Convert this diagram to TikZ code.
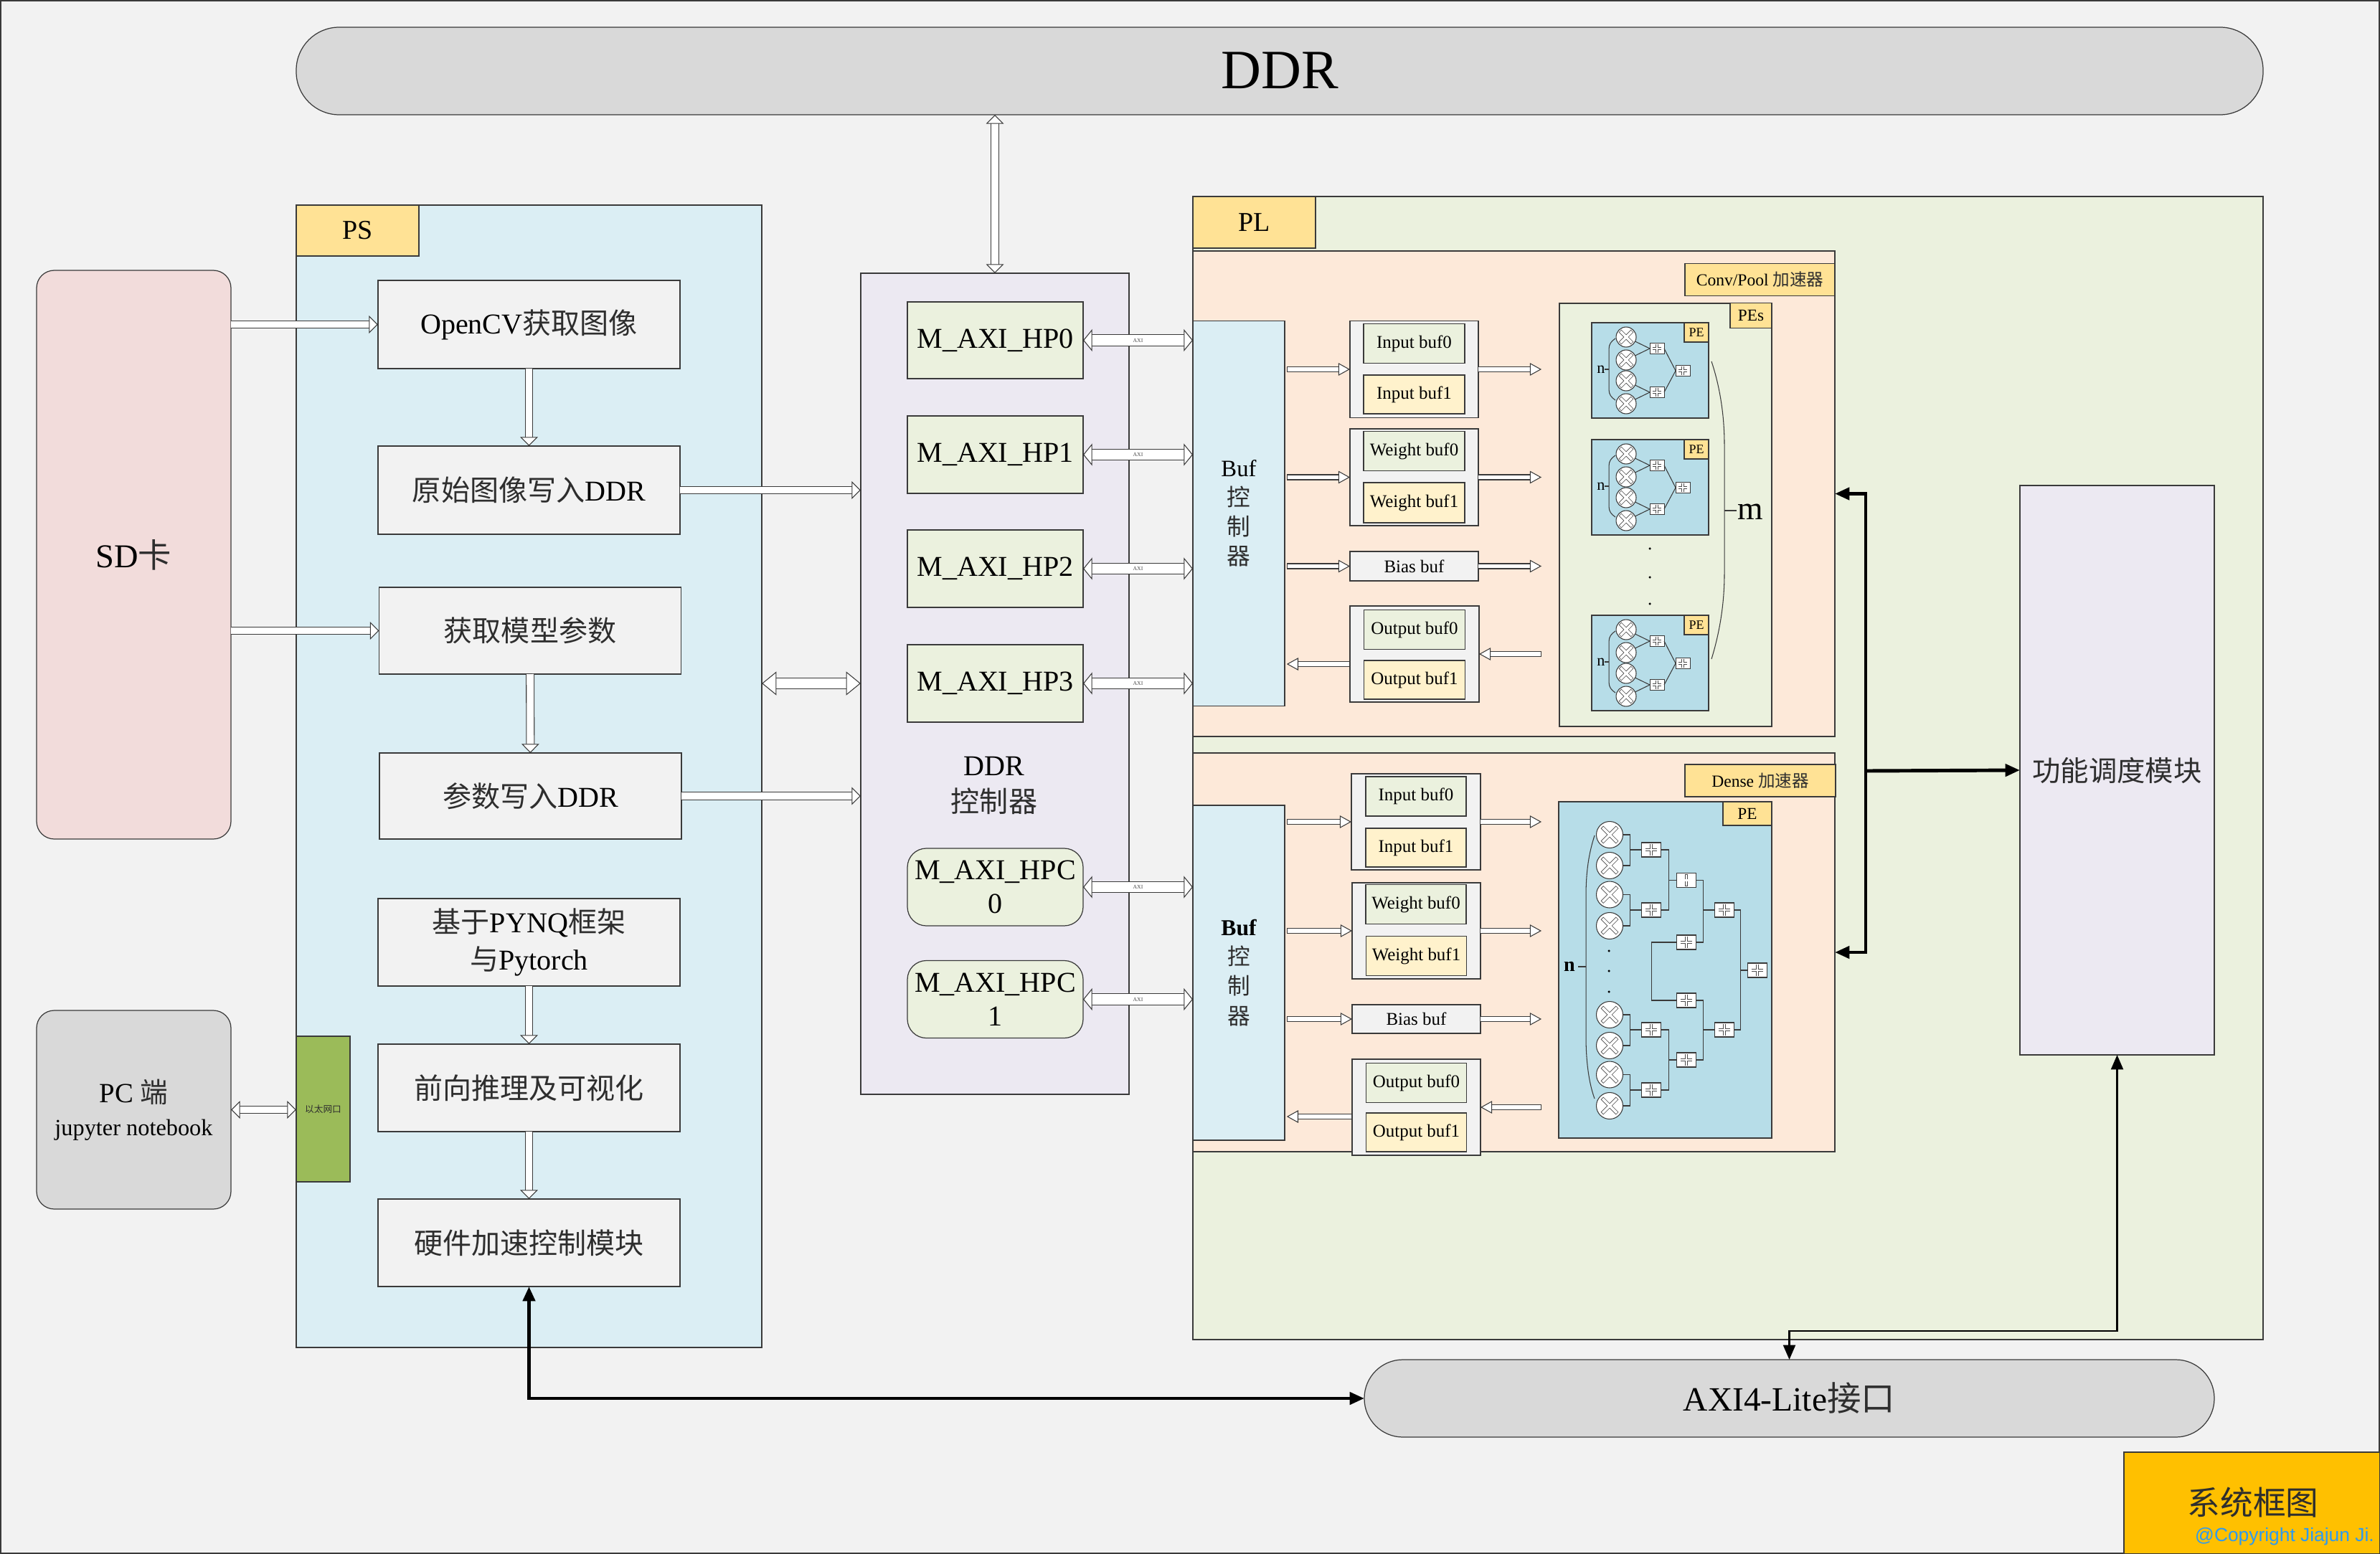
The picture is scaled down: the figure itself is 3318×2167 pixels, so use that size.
\documentclass[tikz,border=0pt]{standalone}
\usepackage{fontspec}
\setmainfont{Liberation Serif}
\newfontfamily\cjk{Noto Sans CJK SC}
\newfontfamily\arialfont{Liberation Sans}
\usetikzlibrary{arrows.meta,calc}
\newcommand{\zh}[1]{{\cjk\color{black!82}#1}}
\newcommand{\fs}[2]{\fontsize{#1}{#2}\selectfont}
\definecolor{pagegray}{HTML}{F2F2F2}
\definecolor{linegray}{HTML}{3A3A3A}
\definecolor{ddrgray}{HTML}{D9D9D9}
\definecolor{psblue}{HTML}{DBEEF4}
\definecolor{plgreen}{HTML}{EBF1DE}
\definecolor{accpeach}{HTML}{FDE9D9}
\definecolor{tagyellow}{HTML}{FFE295}
\definecolor{bufcream}{HTML}{FFF2CC}
\definecolor{ctrllilac}{HTML}{ECE9F2}
\definecolor{sdpink}{HTML}{F2DCDB}
\definecolor{ethgreen}{HTML}{9BBB59}
\definecolor{peblue}{HTML}{B7DDE8}
\definecolor{titleamber}{HTML}{FFC000}
\definecolor{copyblue}{HTML}{2E9AF0}
\tikzset{
  wh/.style 2 args={minimum width=#1*0.01cm,minimum height=#2*0.01cm},
  box/.style={draw=linegray,line width=.35pt,inner sep=0pt,outer sep=0pt,align=center},
  plain/.style={box,fill=pagegray,font=\fs{11.4}{15}},
  tagbox/.style={box,fill=tagyellow},
  hpbox/.style={box,fill=plgreen,font=\fs{11.4}{13.3}},
  groupbox/.style={box,fill=pagegray,font=\fs{7.1}{9}},
  bufa/.style={box,fill=plgreen,font=\fs{7.1}{9}},
  bufb/.style={box,fill=bufcream,font=\fs{7.1}{9}},
  mulnode/.style={circle,draw=linegray,line width=.3pt,fill=white,inner sep=0pt,outer sep=0pt,minimum size=#1*0.01cm},
  addnode/.style 2 args={rectangle,draw=linegray,line width=.3pt,fill=white,inner sep=0pt,outer sep=0pt,minimum width=#1*0.01cm,minimum height=#2*0.01cm},
  hollowout/.style={draw=black!70,line width=1.45pt},
  hollowin/.style={draw=white,line width=1pt,shorten <=.22pt,shorten >=.22pt},
  crossx/.style={path picture={
    \draw[hollowout] ([shift={(-#1,-#1)}]path picture bounding box.center) -- ([shift={(#1,#1)}]path picture bounding box.center);
    \draw[hollowout] ([shift={(-#1,#1)}]path picture bounding box.center) -- ([shift={(#1,-#1)}]path picture bounding box.center);
    \draw[hollowin] ([shift={(-#1,-#1)}]path picture bounding box.center) -- ([shift={(#1,#1)}]path picture bounding box.center);
    \draw[hollowin] ([shift={(-#1,#1)}]path picture bounding box.center) -- ([shift={(#1,-#1)}]path picture bounding box.center);}},
  crossplus/.style={path picture={
    \draw[hollowout,line width=1.1pt] ([shift={(-#1,0)}]path picture bounding box.center) -- ([shift={(#1,0)}]path picture bounding box.center);
    \draw[hollowout,line width=1.1pt] ([shift={(0,#1)}]path picture bounding box.center) -- ([shift={(0,-#1)}]path picture bounding box.center);
    \draw[hollowin,line width=.66pt] ([shift={(-#1,0)}]path picture bounding box.center) -- ([shift={(#1,0)}]path picture bounding box.center);
    \draw[hollowin,line width=.66pt] ([shift={(0,#1)}]path picture bounding box.center) -- ([shift={(0,-#1)}]path picture bounding box.center);}},
  wire/.style={draw=linegray,line width=.3pt},
  endbar/.tip={Bar[width=2.3pt,line width=.3pt]},
  smalltip/.tip={Triangle[fill=white,length=4.6pt,width=5pt]},
  midtip/.tip={Triangle[fill=white,length=3.6pt,width=7pt]},
  axitip/.tip={Triangle[fill=white,length=3.6pt,width=8.8pt]},
  bigtip/.tip={Triangle[fill=white,length=5.8pt,width=9.4pt]},
  bustip/.tip={Triangle[length=5.8pt,width=4.8pt]},
  flow/.style={draw=linegray,line width=.3pt,double=white,double distance=1.7pt},
  flowmid/.style={draw=linegray,line width=.3pt,double=white,double distance=2.8pt},
  flowwide/.style={draw=linegray,line width=.3pt,double=white,double distance=4pt},
  busline/.style={draw=black,line width=1.4pt},
  thinbus/.style={draw=black,line width=.75pt},
  topes/.style={shorten >=7.1pt},
  frompes/.style={shorten <=7.1pt}
}
\begin{document}
\begin{tikzpicture}[x=0.01cm,y=-0.01cm]
\useasboundingbox (0,0) rectangle (3318,2167);
\node[box,fill=pagegray,wh={3316}{2165}] (page) at (1659,1083.5) {};
\node[box,fill=ddrgray,rounded corners=17pt,wh={2742}{122},font=\fs{22}{26}] (ddr) at (1784,99) {\raisebox{.6pt}{DDR}};
\node[box,fill=psblue,wh={649}{1593}] (ps) at (737.5,1082.5) {};
\node[tagbox,wh={171}{71},font=\fs{10.8}{13}] (pstab) at (498.5,321.5) {PS};
\node[box,fill=sdpink,rounded corners=7pt,wh={271}{793},font=\fs{13.2}{16}] (sd) at (186.5,773.5) {SD\zh{卡}};
\node[box,fill=ddrgray,rounded corners=7pt,wh={271}{277},font=\fs{11}{12.5}] (pc) at (186.5,1547.5) {PC \zh{端}\\[.5pt]{\fs{9.2}{11}jupyter notebook}};
\node[box,fill=ethgreen,wh={75}{203},font=\fs{3.6}{5}] (eth) at (450.5,1546.5) {\zh{以太网口}};
\node[plain,wh={421}{123}] (opencv) at (737.5,452.5) {OpenCV\zh{获取图像}};
\node[plain,wh={421}{123}] (rawddr) at (737.5,683.5) {\zh{原始图像写入}DDR};
\node[plain,wh={421}{121}] (getparam) at (739,879.5) {\zh{获取模型参数}};
\node[plain,wh={421}{120}] (writeparam) at (739.5,1110) {\zh{参数写入}DDR};
\node[plain,wh={421}{122}] (pynq) at (737.5,1314) {\zh{基于}PYNQ\zh{框架}\\\zh{与}Pytorch};
\node[plain,wh={421}{122}] (infer) at (737.5,1517) {\zh{前向推理及可视化}};
\node[plain,wh={421}{122}] (hwctl) at (737.5,1733) {\zh{硬件加速控制模块}};
\node[box,fill=ctrllilac,wh={374}{1145}] (ctrl) at (1387,953.5) {};
\node[inner sep=0pt,align=center,font=\fs{11.4}{14.5}] (ctrltxt) at (1386,1095) {DDR\\\zh{控制器}};
\node[hpbox,wh={245}{107}] (hp0) at (1387.5,474.5) {M\_AXI\_HP0};
\node[hpbox,wh={245}{108}] (hp1) at (1387.5,634) {M\_AXI\_HP1};
\node[hpbox,wh={245}{108}] (hp2) at (1387.5,793) {M\_AXI\_HP2};
\node[hpbox,wh={245}{108}] (hp3) at (1387.5,953) {M\_AXI\_HP3};
\node[hpbox,rounded corners=7.5pt,wh={245}{108}] (hpc0) at (1387.5,1237) {M\_AXI\_HPC\\0};
\node[hpbox,rounded corners=7.5pt,wh={245}{108}] (hpc1) at (1387.5,1393.5) {M\_AXI\_HPC\\1};
\node[box,fill=plgreen,wh={1492}{1594}] (pl) at (2409,1071) {};
\node[tagbox,wh={171}{72},font=\fs{10.8}{13}] (pltab) at (1748.5,310) {PL};
\node[box,fill=accpeach,wh={895}{677}] (conv) at (2110.5,688.5) {};
\node[tagbox,wh={209}{45},font=\fs{6.7}{8}] (convtag) at (2453.5,390) {Conv/Pool \zh{加速器}};
\node[box,fill=psblue,wh={128}{537},font=\fs{9.3}{11.7}] (bufctla) at (1727,716) {Buf\\\zh{控}\\\zh{制}\\\zh{器}};
\node[groupbox,wh={179}{135}] (inputa) at (1971.5,515) {};
\node[bufa,wh={141}{55}] (ibufa0) at (1971.5,479) {Input buf0};
\node[bufb,wh={141}{54}] (ibufa1) at (1971.5,550) {Input buf1};
\node[groupbox,wh={179}{135}] (weighta) at (1971.5,665.5) {};
\node[bufa,wh={141}{55}] (wbufa0) at (1971.5,629) {Weight buf0};
\node[bufb,wh={141}{56}] (wbufa1) at (1971.5,701) {Weight buf1};
\node[groupbox,wh={179}{41}] (biasa) at (1971.5,789.5) {Bias buf};
\node[groupbox,wh={180}{134}] (outa) at (1972,912) {};
\node[bufa,wh={141}{55}] (obufa0) at (1972,878) {Output buf0};
\node[bufb,wh={141}{54}] (obufa1) at (1972,948) {Output buf1};
\node[box,fill=plgreen,wh={296}{590}] (pes) at (2322,718) {};
\node[tagbox,wh={58}{35},font=\fs{6.6}{8}] (pestag) at (2441,440) {PEs};
\foreach \pe/\py in {pea/450,peb/613,pec/858}{
\begin{scope}[shift={(2219,\py)}]
\node[box,fill=peblue,wh={163}{133}] (\pe) at (81.5,66.5) {};
\node[tagbox,wh={34}{27},font=\fs{5.1}{6}] (\pe-tag) at (146,13.5) {PE};
\node[mulnode=28,crossx=2.4pt] (\pe-m1) at (48,20) {};
\node[mulnode=28,crossx=2.4pt] (\pe-m2) at (48,52) {};
\node[mulnode=28,crossx=2.4pt] (\pe-m3) at (48,81) {};
\node[mulnode=28,crossx=2.4pt] (\pe-m4) at (48,113) {};
\node[addnode={20}{15},crossplus=1.8pt] (\pe-a1) at (91,36) {};
\node[addnode={20}{15},crossplus=1.8pt] (\pe-a2) at (91,97) {};
\node[addnode={20}{15},crossplus=1.8pt] (\pe-a3) at (127,67) {};
\draw[wire] (\pe-m1) -- (\pe-a1.west);
\draw[wire] (\pe-m2) -- (\pe-a1.west);
\draw[wire] (\pe-m3) -- (\pe-a2.west);
\draw[wire] (\pe-m4) -- (\pe-a2.west);
\draw[wire] (\pe-a1.east) -- (\pe-a3.west);
\draw[wire] (\pe-a2.east) -- (\pe-a3.west);
\node[inner sep=0pt,font=\fs{6.3}{7}] (\pe-n) at (13,65) {n};
\draw[wire] (33,22) .. controls (27,26) and (24,30) .. (24,37) -- (24,93) .. controls (24,100) and (27,104) .. (33,108);
\draw[wire] (18,65) -- (24,65);
\end{scope}
}
\node[circle,fill=black,inner sep=.35pt] (dotm1) at (2300,765) {};
\node[circle,fill=black,inner sep=.35pt] (dotm2) at (2300,805) {};
\node[circle,fill=black,inner sep=.35pt] (dotm3) at (2300,842) {};
\draw[wire] (2386,504) .. controls (2398,540) and (2404,580) .. (2404,620) -- (2404,800) .. controls (2404,840) and (2398,880) .. (2386,919);
\draw[wire] (2404,712) -- (2421,712);
\node[inner sep=0pt,font=\fs{13}{15}] (mlabel) at (2440,714) {m};
\node[box,fill=accpeach,wh={895}{556}] (dense) at (2110.5,1328) {};
\node[tagbox,wh={210}{45},font=\fs{6.7}{8}] (densetag) at (2454,1088.5) {Dense \zh{加速器}};
\node[box,fill=psblue,wh={128}{467},font=\fs{9}{11.7}\bfseries] (bufctlb) at (1727,1356.5) {Buf\\{\mdseries\zh{控}}\\{\mdseries\zh{制}}\\{\mdseries\zh{器}}};
\node[groupbox,wh={180}{134}] (inputb) at (1974,1146) {};
\node[bufa,wh={140}{55}] (ibufb0) at (1974,1110.5) {Input buf0};
\node[bufb,wh={140}{54}] (ibufb1) at (1974,1182) {Input buf1};
\node[groupbox,wh={179}{134}] (weightb) at (1974.5,1298) {};
\node[bufa,wh={140}{55}] (wbufb0) at (1974,1261) {Weight buf0};
\node[bufb,wh={140}{55}] (wbufb1) at (1974.5,1333) {Weight buf1};
\node[groupbox,wh={179}{40}] (biasb) at (1974.5,1421) {Bias buf};
\node[groupbox,wh={179}{134}] (outb) at (1974.5,1544) {};
\node[bufa,wh={140}{55}] (obufb0) at (1974.5,1510) {Output buf0};
\node[bufb,wh={140}{54}] (obufb1) at (1974.5,1579) {Output buf1};
\node[box,fill=peblue,wh={297}{469}] (dpe) at (2321.5,1352.5) {};
\node[tagbox,wh={68}{33},font=\fs{6.6}{8}] (dpetag) at (2436,1134.5) {PE};
\foreach \mn/\my in {1/1164,2/1207,3/1247.5,4/1291,5/1415,6/1458,7/1498.5,8/1542}{
\node[mulnode=37,crossx=3pt] (dm\mn) at (2244,\my) {};
}
\foreach \an/\ax/\ay in {a1/2302/1185,a2/2302/1269,a3/2302/1436,a4/2302/1520,b1/2351/1227.5,b2/2351/1314,b3/2351/1395,b4/2351/1478,c1/2404/1269,c2/2404/1436,e1/2450/1353}{
\node[addnode={27}{20},crossplus=2.4pt] (d\an) at (\ax,\ay) {};
}
\foreach \srca/\srcb/\dst/\dx in {dm1/dm2/da1/10,dm3/dm4/da2/10,dm5/dm6/da3/10,dm7/dm8/da4/10,da1/da2/db1/10.5,da3/da4/db4/10.5,db1/db2/dc1/10,db3/db4/dc2/10,dc1/dc2/de1/9}{
\draw[wire] (\srca.east) -- ++(\dx,0) |- (\dst.west);
\draw[wire] (\srcb.east) -- ++(\dx,0) |- (\dst.west);
}
\draw[wire] (db2.west) -- ++(-35.5,0) |- (db3.west);
\node[circle,fill=black,inner sep=.35pt] (dotn1) at (2243,1326) {};
\node[circle,fill=black,inner sep=.35pt] (dotn2) at (2243,1354) {};
\node[circle,fill=black,inner sep=.35pt] (dotn3) at (2243,1383) {};
\draw[wire] (2223,1165) .. controls (2215,1190) and (2211,1215) .. (2211,1250) -- (2211,1445) .. controls (2211,1480) and (2215,1510) .. (2223,1532);
\draw[wire] (2200,1348) -- (2211,1348);
\node[inner sep=0pt,font=\fs{8}{9}\bfseries] (dnlabel) at (2188,1348) {n};
\node[box,fill=ctrllilac,wh={271}{794},font=\fs{11.2}{13}] (sched) at (2951.5,1074) {\zh{功能调度模块}};
\node[box,fill=ddrgray,rounded corners=15.3pt,wh={1185}{108},font=\fs{13.5}{16}] (axil) at (2494.5,1950) {AXI4-Lite\zh{接口}};
\node[box,fill=titleamber,wh={357}{142}] (titlebox) at (3139.5,2096) {};
\node[inner sep=0pt,font=\fs{13}{15}] (titletxt) at (3141,2095) {\zh{系统框图}};
\node[inner sep=0pt,font=\arialfont\fs{7.5}{9},text=copyblue] (copytxt) at (3185,2143) {@Copyright Jiajun Ji.};
\draw[flowmid,midtip-midtip] (ddr.south -| ctrl) -- (ctrl.north);
\draw[flowmid,-midtip] (sd.east |- opencv) -- (opencv.west);
\draw[flowmid,-midtip] (sd.east |- getparam) -- (getparam.west);
\draw[flowmid,-midtip] (opencv) -- (rawddr);
\draw[flowmid,-midtip] (getparam) -- (writeparam);
\draw[flowmid,-midtip] (pynq.south -| infer) -- (infer.north);
\draw[flowmid,-midtip] (infer) -- (hwctl);
\draw[flowmid,-midtip] (rawddr.east) -- (rawddr.east -| ctrl.west);
\draw[flowmid,-midtip] (writeparam.east) -- (writeparam.east -| ctrl.west);
\draw[flowmid,midtip-midtip] (pc.east) -- (pc.east -| eth.west);
\draw[flowwide,bigtip-bigtip] (ps.east |- hp3) -- (ctrl.west |- hp3);
\foreach \hp in {hp0,hp1,hp2,hp3,hpc0,hpc1}{
\draw[flowwide,axitip-axitip] (\hp.east) -- (\hp.east -| pl.west) node[midway,inner sep=0pt,font=\fs{2.2}{3},text=black!70] (\hp-axi) {AXI};
}
\foreach \grp in {inputa,weighta,biasa,inputb,weightb,biasb}{
\draw[flow,endbar-smalltip,shorten <=.8pt] (bufctla.east |- \grp.west) -- (\grp.west);
\draw[flow,-smalltip,topes] (\grp.east) -- (\grp.east -| pes.west);
}
\draw[flow,endbar-smalltip,shorten >=.8pt] ([yshift=-0.14cm]outa.west) -- ([yshift=-0.14cm]outa.west -| bufctla.east);
\draw[flow,endbar-smalltip,frompes] (outa.east -| pes.west) -- (outa.east);
\draw[flow,endbar-smalltip,shorten >=.8pt] ([yshift=-0.13cm]outb.west) -- ([yshift=-0.13cm]outb.west -| bufctlb.east);
\draw[flow,endbar-smalltip,frompes] (outb.east -| pes.west) -- (outb.east);
\coordinate (bus) at (2601,1075);
\coordinate (axijog) at (2494.5,1856);
\draw[busline,bustip-bustip] (conv.east) -- (conv.east -| bus) -- (dense.east -| bus) -- (dense.east);
\draw[busline,-bustip] (bus) -- (sched.west);
\draw[busline,bustip-bustip] (hwctl.south) |- (axil.west);
\draw[thinbus,bustip-bustip] (sched.south) |- (axijog) -- (axil.north);
\end{tikzpicture}
\end{document}
